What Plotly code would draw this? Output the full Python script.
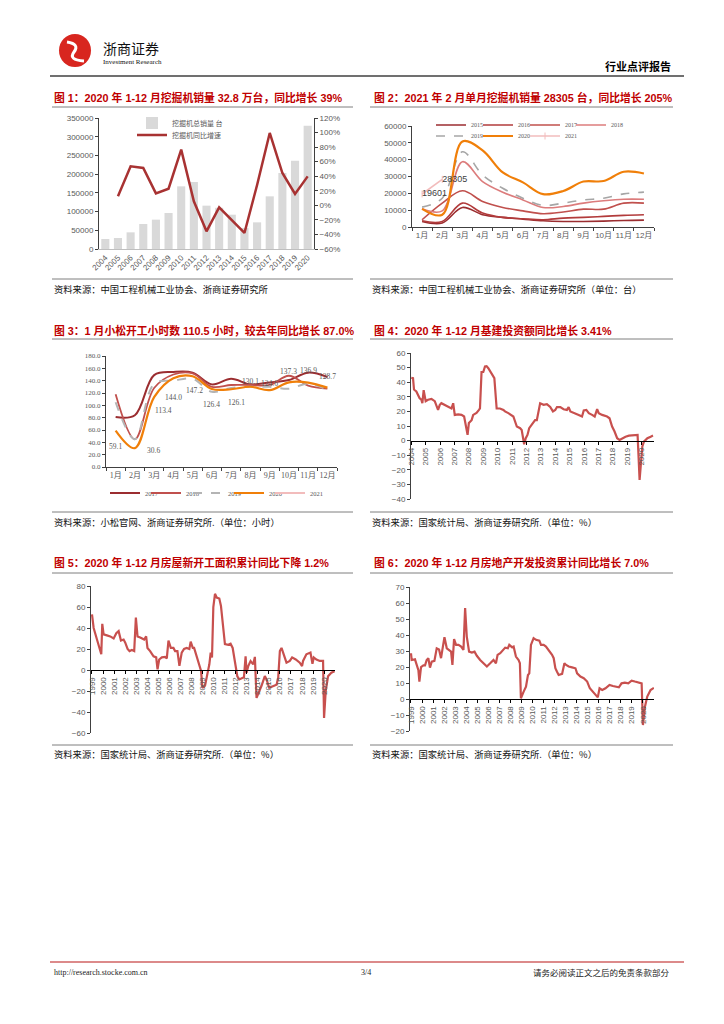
import plotly.graph_objects as go

# The page body has an 8px margin; the figure is sized so that figure + margin fills 724x1024,
# and all layout positions below are given in page pixels.
OFF = 8
W, H = 724 - 2 * OFF, 1024 - 2 * OFF
def fx(px): return (px - OFF) / W
def fy(py): return 1 - (py - OFF) / H

GRAY_TXT = '#595959'
RED_T = '#c00000'
CJK = 'Noto Sans CJK SC'
SANS = 'Liberation Sans, Noto Sans CJK SC'
SERIF = 'Liberation Serif, Noto Sans CJK SC'
AXC = '#404040'

# ---------------- Chart 1 data ----------------
years1 = ['2004', '2005', '2006', '2007', '2008', '2009', '2010', '2011', '2012',
          '2013', '2014', '2015', '2016', '2017', '2018', '2019', '2020']
sales1 = [26700, 29400, 44500, 66800, 78400, 96200, 167400, 179000, 115800,
          110000, 91700, 56000, 71200, 140700, 203000, 236000, 329000]
growth1 = [None, 12.4, 53.6, 51.3, 16.5, 22.9, 76.5, 5.5, -35.7,
           -2.8, -19.7, -38.0, 28.0, 99.4, 44.4, 15.6, 39.8]

# ---------------- Chart 2 data ----------------
months = ['1月', '2月', '3月', '4月', '5月', '6月', '7月', '8月', '9月', '10月', '11月', '12月']
ex2015 = [3300, 2400, 11600, 7300, 5700, 4700, 3700, 3300, 3300, 3500, 3900, 4100]
ex2016 = [3700, 3300, 14200, 8300, 5700, 4900, 4300, 5300, 5700, 6300, 6900, 7300]
ex2017 = [4300, 14200, 21500, 15200, 11600, 9600, 7900, 8900, 10600, 10600, 14200, 14200]
ex2018 = [10800, 9600, 38800, 27000, 20700, 16100, 11600, 12200, 14200, 15600, 16500, 16500]
ex2019 = [11800, 17100, 44700, 30900, 23000, 17100, 12800, 14200, 16100, 17100, 19700, 20700]
ex2020 = [10800, 7300, 50800, 45500, 32400, 26500, 19500, 21400, 27000, 27300, 32800, 31800]
ex2021 = [19601, 28305]
ex2021_labels = ['19601', '28305']

# ---------------- Chart 3 data ----------------
hr2017 = [81, 84, 149, 154, 153, 134, 143, 134, 137, 141, 153, 146]
hr2018 = [118, 45, 128, 150, 152, 130, 133, 133, 133, 148, 132, 127]
hr2019 = [105, 45, 135, 140, 143, 122, 128, 130, 130, 127, 135, 125]
hr2020 = [59.1, 30.6, 113.4, 144.0, 147.2, 126.4, 126.1, 130.1, 124.6, 137.3, 136.9, 128.7]
hr2021 = [110.5]
hr2020_labels = ['59.1', '30.6', '113.4', '144.0', '147.2', '126.4', '126.1',
                 '130.1', '124.6', '137.3', '136.9', '128.7']

# ---------------- Chart 4 data (infrastructure investment YoY, %) ----------------
t4 = [2004.0, 2004.12, 2004.19, 2004.35, 2004.58, 2004.70, 2004.77, 2004.86, 2005.0, 2005.16,
      2005.40, 2005.63, 2005.86, 2005.98, 2006.09, 2006.33, 2006.56, 2006.79, 2006.91, 2007.02,
      2007.26, 2007.49, 2007.67, 2007.84, 2007.91, 2008.0, 2008.19, 2008.30, 2008.53, 2008.70,
      2008.77, 2008.88, 2009.0, 2009.12, 2009.23, 2009.35, 2009.58, 2009.77, 2009.93, 2010.16,
      2010.40, 2010.51, 2010.74, 2010.98, 2011.09, 2011.33, 2011.56, 2011.67, 2011.84, 2011.95,
      2012.07, 2012.19, 2012.37, 2012.60, 2012.72, 2012.84, 2012.95, 2013.19, 2013.42, 2013.65,
      2013.84, 2014.0, 2014.12, 2014.35, 2014.58, 2014.81, 2014.93, 2015.05, 2015.40, 2015.63,
      2015.86, 2015.98, 2016.16, 2016.33, 2016.56, 2016.74, 2016.91, 2017.02, 2017.26, 2017.60,
      2017.77, 2017.95, 2018.12, 2018.30, 2018.47, 2018.65, 2018.88, 2019.12, 2019.35, 2019.58,
      2019.72, 2019.86, 2019.95, 2020.05, 2020.16, 2020.40, 2020.63, 2020.79]
v4 = [43, 42.8, 35, 33.6, 29, 28, 25.6, 34.5, 27, 28,
      28.6, 27, 21, 24.5, 25.6, 24.5, 23, 22, 25.6, 17.6,
      18, 17.6, 16.5, 7, 3.9, 12, 14, 17.6, 19, 21,
      22, 47, 47, 50.8, 51, 49.6, 46, 42.8, 22, 22,
      21, 20, 18.8, 17.6, 16.5, 9.6, 8.5, 7.3, -2.5, 1.6,
      3.9, 8.5, 10.8, 14, 14, 20, 25.6, 24.5, 25, 23,
      20, 21, 23, 22.9, 21.5, 21, 22.9, 20, 18.8, 17.6,
      16.5, 20.6, 21, 18.8, 17.6, 16.5, 21.5, 18.8, 17.6, 16.5,
      15.3, 9.6, 6.2, 1.6, 0.5, 1.6, 2.7, 3.4, 3.4, 3.9,
      3.9, -27, -13, -4, -0.7, 1.6, 2.7, 3.41]
ticks4 = list(range(2004, 2021))

# ---------------- Chart 5 data (new housing starts cumulative YoY, %) ----------------
t5 = [1999.0, 1999.15, 1999.45, 1999.60, 1999.75, 1999.84, 1999.93, 2000.05, 2000.35, 2000.65,
      2000.96, 2001.20, 2001.41, 2001.62, 2001.86, 2002.01, 2002.22, 2002.40, 2002.61, 2002.82,
      2002.97, 2003.12, 2003.36, 2003.72, 2003.90, 2004.02, 2004.26, 2004.57, 2004.81, 2004.93,
      2005.08, 2005.32, 2005.62, 2005.77, 2005.92, 2006.13, 2006.37, 2006.52, 2006.73, 2006.91,
      2007.12, 2007.33, 2007.57, 2007.81, 2007.93, 2008.12, 2008.24, 2008.48, 2008.72, 2008.87,
      2008.99, 2009.23, 2009.38, 2009.62, 2009.74, 2009.86, 2009.98, 2010.13, 2010.28, 2010.52,
      2010.67, 2010.82, 2011.03, 2011.33, 2011.54, 2011.73, 2011.94, 2012.15, 2012.33, 2012.54,
      2012.75, 2012.90, 2012.99, 2013.14, 2013.35, 2013.59, 2013.74, 2013.89, 2014.04, 2014.34,
      2014.64, 2014.79, 2015.04, 2015.40, 2015.70, 2015.85, 2016.0, 2016.15, 2016.45, 2016.60,
      2016.90, 2017.11, 2017.44, 2017.80, 2018.01, 2018.10, 2018.40, 2018.77, 2018.95, 2019.07,
      2019.31, 2019.61, 2019.91, 2020.0, 2020.15, 2020.36, 2020.66, 2020.96]
v5 = [53, 40, 29, 23, 18, 15, 44, 34, 33, 32,
      30, 35, 37, 28, 29, 26, 20, 18, 19, 18,
      50, 32, 31, 29, 32, 21, 18, 13, 12, 0.6,
      10, 12, 12.5, 11, 28, 21, 21, 18, 18, 4,
      16.6, 20, 21, 20, 27, 21, 21, 13, 5.4, -1,
      -17, -15, -7, 5.4, 16.6, 12, 60, 72.6, 69, 68,
      61, 44, 24.6, 24, 25, 21, 5.4, -6, -9, -8,
      -7, 13, -2.6, 3.8, 8.6, 5.4, 12.5, -26.6, -23, -15,
      -5.8, -9, -17, -15, -14, -7.4, 18, 21, 12, 7,
      8.6, 12, 10, 7, 3.8, 8.6, 15, 16.6, 6, 12,
      10, 8.6, 8.6, -45.6, -20, -6, -2.6, -1.2]
ticks5 = list(range(1999, 2021))

# ---------------- Chart 6 data (real estate investment cumulative YoY, %) ----------------
t6 = [1999.0, 1999.06, 1999.36, 1999.51, 1999.67, 1999.76, 1999.91, 2000.12, 2000.27, 2000.42,
      2000.57, 2000.72, 2000.88, 2001.12, 2001.33, 2001.54, 2001.72, 2001.84, 2002.03, 2002.24,
      2002.45, 2002.63, 2002.75, 2002.90, 2003.08, 2003.30, 2003.54, 2003.75, 2003.90, 2004.05,
      2004.26, 2004.51, 2004.75, 2004.96, 2005.26, 2005.57, 2005.87, 2006.17, 2006.47, 2006.69,
      2006.84, 2007.08, 2007.38, 2007.53, 2007.77, 2007.90, 2008.14, 2008.29, 2008.50, 2008.74,
      2008.86, 2008.95, 2009.20, 2009.41, 2009.59, 2009.71, 2009.86, 2010.10, 2010.32, 2010.62,
      2010.77, 2011.01, 2011.22, 2011.47, 2011.77, 2011.92, 2012.07, 2012.22, 2012.37, 2012.68,
      2012.89, 2013.04, 2013.28, 2013.58, 2013.89, 2014.04, 2014.34, 2014.64, 2014.95, 2015.19,
      2015.49, 2015.76, 2015.91, 2016.07, 2016.31, 2016.61, 2016.97, 2017.28, 2017.58, 2017.82,
      2018.06, 2018.36, 2018.67, 2018.97, 2019.27, 2019.64, 2019.88, 2020.0, 2020.18, 2020.39,
      2020.69, 2020.99]
v6 = [28.6, 24.4, 24.8, 22, 18, 10.9, 20, 21, 21, 24.4,
      25.5, 19.6, 23.4, 23.8, 31.7, 31, 25.5, 30.7, 38.6, 31.7,
      30.7, 29.6, 21.3, 37.4, 33.8, 33.8, 32.8, 30.7, 56.8, 39,
      29.6, 29, 29.6, 27, 24.4, 22.3, 20.3, 22.3, 24.4, 22.3,
      27.6, 28.6, 30.7, 32.1, 31.7, 33.8, 32.4, 32.8, 26.5, 24.4,
      22.3, 0.5, 4.6, 7.7, 15, 16, 33.8, 38, 37, 36.5,
      33.8, 33.8, 32.8, 30.7, 27.6, 25.5, 19.2, 17, 15, 15.7,
      22.3, 21.3, 20.3, 19.8, 19.2, 16, 14, 13, 10.9, 6.7,
      4.6, 2.5, 1.0, 6.7, 5.6, 6.7, 8.8, 8.1, 7.7, 7.3,
      9.8, 10.2, 9.8, 11.5, 10.9, 10.2, 9.8, -16.3, -4.8, 1.5,
      5.6, 7.0]
ticks6 = list(range(1999, 2021))

# ======================================================================
fig = go.Figure()
lay = dict(width=W, height=H, margin=dict(l=0, r=0, t=0, b=0, autoexpand=False),
           paper_bgcolor='white', plot_bgcolor='rgba(0,0,0,0)',
           bargap=0.36, showlegend=True, font=dict(family=CJK))

# one legend box per entry so every entry sits where the reference puts it
leg_counter = [0]
def new_legend(text_x, py, font):
    leg_counter[0] += 1
    key = 'legend' if leg_counter[0] == 1 else 'legend%d' % leg_counter[0]
    lay[key] = dict(x=fx(text_x - 40), y=fy(py), xanchor='left', yanchor='middle',
                    bgcolor='rgba(0,0,0,0)', borderwidth=0, font=font, itemwidth=30)
    return key

# Chart 1
f1 = dict(size=7, color=GRAY_TXT, family=CJK)
fig.add_trace(go.Bar(x=years1, y=sales1, name='挖掘机总销量 台', marker=dict(color='#d9d9d9', line=dict(width=0)),
                     xaxis='x', yaxis='y', legend=new_legend(172, 123, f1)))
fig.add_trace(go.Scatter(x=years1, y=growth1, name='挖掘机同比增速', mode='lines',
                         line=dict(color='#a83232', width=2.5), xaxis='x', yaxis='y2',
                         legend=new_legend(172, 135, f1)))

# Chart 2
f2 = dict(size=6, color=GRAY_TXT, family=SERIF)
c2 = [('2015', ex2015, '#9b2d30', 'solid', 1.6, 471, 125),
      ('2016', ex2016, '#b23b3b', 'solid', 1.6, 518, 125),
      ('2017', ex2017, '#c0504d', 'solid', 1.6, 565, 125),
      ('2018', ex2018, '#dc7c7c', 'solid', 1.6, 611, 125),
      ('2019', ex2019, '#a6a6a6', 'dash', 1.6, 471, 136),
      ('2020', ex2020, '#f07f09', 'solid', 2.2, 518, 136)]
for nm, vals, col, dash, wd, lx, ly in c2:
    fig.add_trace(go.Scatter(x=months, y=vals, name=nm, mode='lines',
                             line=dict(color=col, width=wd, dash=dash, shape='spline'),
                             xaxis='x2', yaxis='y3', legend=new_legend(lx, ly, f2)))
fig.add_trace(go.Scatter(x=months[:len(ex2021)], y=ex2021, name='2021', mode='lines+markers',
                         line=dict(color='#f2bcbc', width=1.6),
                         marker=dict(symbol='line-ns', size=5, color='#f2bcbc', line=dict(color='#f2bcbc', width=1)),
                         xaxis='x2', yaxis='y3', legend=new_legend(565, 136, f2)))
fig.add_trace(go.Scatter(x=months[:len(ex2021)], y=ex2021, text=ex2021_labels, mode='text', textposition='middle right',
                         textfont=dict(size=9, color='#404040', family=SANS), showlegend=False, xaxis='x2', yaxis='y3'))

# Chart 3
f3 = dict(size=6.5, color=GRAY_TXT, family=SERIF)
c3 = [('2017', hr2017, '#9b2d30', 'solid', 2.0, 145),
      ('2018', hr2018, '#c0504d', 'solid', 1.8, 186),
      ('2019', hr2019, '#b4b4b4', 'dash', 2.0, 228),
      ('2020', hr2020, '#f07f09', 'solid', 2.2, 269),
      ('2021', hr2021, '#f2bcbc', 'solid', 2.0, 310)]
for nm, vals, col, dash, wd, lx in c3:
    fig.add_trace(go.Scatter(x=months[:len(vals)], y=vals, name=nm, mode='lines',
                             line=dict(color=col, width=wd, dash=dash, shape='spline'),
                             xaxis='x3', yaxis='y4', legend=new_legend(lx, 493, f3)))

# Chart 4-6
for tt, vv, xa, ya in [(t4, v4, 'x4', 'y5'), (t5, v5, 'x5', 'y6'), (t6, v6, 'x6', 'y7')]:
    fig.add_trace(go.Scatter(x=tt, y=vv, mode='lines', line=dict(color='#c8504e', width=2.2),
                             showlegend=False, xaxis=xa, yaxis=ya))

# ======================================================================
tickf = dict(size=8, color=GRAY_TXT, family=SANS)

def dom_x(a, b): return [fx(a), fx(b)]
def dom_y(top, bot): return [fy(bot), fy(top)]

def yax(top, bot, rng, dtick, anchor, **kw):
    d = dict(domain=dom_y(top, bot), range=rng, dtick=dtick, anchor=anchor, showgrid=False, zeroline=False,
             showline=True, linecolor=AXC, linewidth=1, ticks='outside', ticklen=3, tickcolor=AXC,
             tickfont=tickf, fixedrange=True, automargin=False)
    d.update(kw)
    return d

def zero_pos(dom, rng):
    return dom[0] + (0 - rng[0]) / (rng[1] - rng[0]) * (dom[1] - dom[0])

# Chart 1 axes
lay['xaxis'] = dict(domain=dom_x(99, 314), type='category', range=[-0.5, 16.5], anchor='y', showgrid=False,
                    showline=True, linecolor='#bfbfbf', linewidth=1, ticks='', tickangle=-45, dtick=1,
                    tickfont=tickf, automargin=False)
lay['yaxis'] = yax(118, 249, [0, 350000], 50000, 'x', tickformat='d')
lay['yaxis2'] = yax(118, 249, [-60, 120], 20, 'x', overlaying='y', side='right', ticksuffix='%')

# Chart 2 axes
lay['xaxis2'] = dict(domain=dom_x(412, 654), type='category', range=[-0.5, 11.5], anchor='y3', showgrid=False,
                     showline=True, linecolor=AXC, linewidth=1, ticks='outside', ticklen=3, tickcolor=AXC,
                     tickson='boundaries', tickangle=0, dtick=1, automargin=False,
                     tickfont=dict(size=8, color=GRAY_TXT, family=SANS))
lay['yaxis3'] = yax(126, 227, [0, 60000], 10000, 'x2', tickformat='d')

# Chart 3 axes
lay['xaxis3'] = dict(domain=dom_x(106, 337), type='category', range=[-0.5, 11.5], anchor='y4', showgrid=False,
                     showline=True, linecolor=AXC, linewidth=1, ticks='outside', ticklen=3, tickcolor=AXC,
                     tickson='boundaries', tickangle=0, dtick=1, automargin=False,
                     tickfont=dict(size=8, color=GRAY_TXT, family=SERIF))
lay['yaxis4'] = yax(356, 467, [0, 180], 20, 'x3', tickformat='.1f', tickfont=dict(size=7, color=GRAY_TXT, family=SERIF))

def year_axis(dom, rng, pos, tv):
    return dict(domain=dom, range=rng, anchor='free', position=pos, showgrid=False, showline=True,
                linecolor='#000000', linewidth=1, ticks='outside', ticklen=3, tickcolor='#000000',
                tickvals=tv, ticktext=[str(y) for y in tv], tickangle=-90, tickfont=tickf, automargin=False)

# Chart 4 axes
r5 = [-40, 60]
lay['yaxis5'] = yax(353, 499, r5, 10, 'x4')
lay['xaxis4'] = year_axis(dom_x(411, 654), [2003.98, 2020.86], zero_pos(dom_y(353, 499), r5), ticks4)
# Chart 5 axes
r6 = [-60, 80]
lay['yaxis6'] = yax(586, 733, r6, 20, 'x5')
lay['xaxis5'] = year_axis(dom_x(91, 335), [1998.91, 2020.99], zero_pos(dom_y(586, 733), r6), ticks5)
# Chart 6 axes
r7 = [-20, 70]
lay['yaxis7'] = yax(587, 731, r7, 10, 'x6')
lay['xaxis6'] = year_axis(dom_x(410, 654), [1998.91, 2021.0], zero_pos(dom_y(587, 731), r7), ticks6)

# ======================================================================
ann = []
def text(px, py, s, size, color='#000000', family=CJK, xanchor='left', bold=False):
    ann.append(dict(x=fx(px), y=fy(py), xref='paper', yref='paper', text=s, showarrow=False,
                    xanchor=xanchor, yanchor='middle',
                    font=dict(size=size, color=color, family=family, weight='bold' if bold else 'normal')))

shapes = []
def hline(x0, x1, py, color, width):
    shapes.append(dict(type='line', xref='paper', yref='paper', x0=fx(x0), x1=fx(x1), y0=fy(py), y1=fy(py),
                       line=dict(color=color, width=width)))

# header
shapes.append(dict(type='circle', xref='paper', yref='paper', x0=fx(59), x1=fx(91), y0=fy(67), y1=fy(34),
                   fillcolor='#d8261f', line=dict(width=0)))
shapes.append(dict(type='path', xref='paper', yref='paper',
                   path='M %f %f Q %f %f %f %f Q %f %f %f %f' % (fx(67), fy(42), fx(80), fy(44), fx(74), fy(52),
                                                                 fx(68), fy(60), fx(84), fy(61)),
                   line=dict(color='white', width=3)))
text(101, 48, '浙商证券', 14, '#111111', CJK)
text(101, 62, 'Investment Research', 7, '#111111', 'Liberation Serif')
text(673, 66, '行业点评报告', 11, '#000000', CJK, 'right', bold=True)
hline(50, 684, 76, '#404040', 1.5)

# titles
titles = [(52, 97, '图 1：2020 年 1-12 月挖掘机销量 32.8 万台，同比增长 39%'),
          (372, 97, '图 2：2021 年 2 月单月挖掘机销量 28305 台，同比增长 205%'),
          (52, 330, '图 3：1 月小松开工小时数 110.5 小时，较去年同比增长 87.0%'),
          (372, 330, '图 4：2020 年 1-12 月基建投资额同比增长 3.41%'),
          (52, 562, '图 5：2020 年 1-12 月房屋新开工面积累计同比下降 1.2%'),
          (372, 562, '图 6：2020 年 1-12 月房地产开发投资累计同比增长 7.0%')]
for px, py, s in titles:
    text(px, py, s, 10.8, RED_T, 'Liberation Sans, Noto Sans CJK SC', bold=True)

for (x0, x1) in [(52, 353), (370, 673)]:
    for yy in (107, 339, 573, 279, 512, 745):
        hline(x0, x1, yy, '#7f7f7f', 1)

sources = [(52, 289, '资料来源：中国工程机械工业协会、浙商证券研究所'),
           (370, 289, '资料来源：中国工程机械工业协会、浙商证券研究所（单位：台）'),
           (52, 522, '资料来源：小松官网、浙商证券研究所.（单位：小时）'),
           (370, 522, '资料来源：国家统计局、浙商证券研究所.（单位：%）'),
           (52, 754, '资料来源：国家统计局、浙商证券研究所.（单位：%）'),
           (370, 754, '资料来源：国家统计局、浙商证券研究所.（单位：%）')]
for px, py, s in sources:
    text(px, py, s, 9.3, '#111111', CJK)

# chart 3 data labels (2020 values)
lab_shift = [(0, -16), (19, -2), (9, -13), (0, -19), (2, -14), (0, -15), (5, -13),
             (0, 5), (0, 7), (0, 11), (0, 12), (0, 11)]
for m, v, s, (dx, dy) in zip(months, hr2020, hr2020_labels, lab_shift):
    ann.append(dict(x=m, y=v, xref='x3', yref='y4', text=s, showarrow=False, xshift=dx, yshift=dy,
                    font=dict(size=7.5, color=GRAY_TXT, family=SERIF)))

# footer
hline(50, 684, 962, '#dc8a8a', 2)
text(52, 972, 'http://research.stocke.com.cn', 8, '#222222', 'Liberation Serif')
text(366, 972, '3/4', 8, '#222222', 'Liberation Serif', 'center')
text(672, 972, '请务必阅读正文之后的免责条款部分', 8.5, '#222222', CJK, 'right')

lay['annotations'] = ann
lay['shapes'] = shapes
fig.update_layout(**lay)
fig.write_html('out.html')
